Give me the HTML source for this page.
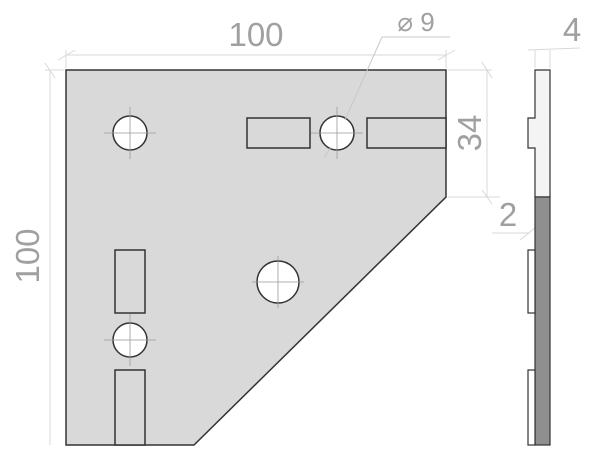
<!DOCTYPE html>
<html><head><style>html,body{margin:0;padding:0;background:#fff;}svg{display:block}</style></head>
<body>
<svg width="600" height="473" viewBox="0 0 600 473" xmlns="http://www.w3.org/2000/svg" font-family="Liberation Sans, sans-serif">
<g stroke="#d8d8d8" stroke-width="1" fill="none">
<line x1="66" y1="55" x2="446" y2="55"/>
<line x1="66" y1="68" x2="66" y2="50"/>
<line x1="446" y1="68" x2="446" y2="50"/>
<line x1="58" y1="60" x2="75" y2="50"/>
<line x1="438" y1="60" x2="455" y2="50"/>
<line x1="50" y1="70" x2="50" y2="445"/>
<line x1="45" y1="70" x2="64" y2="70"/>
<line x1="45" y1="63" x2="55" y2="78"/>
<line x1="448" y1="70" x2="492" y2="70"/>
<line x1="448" y1="197" x2="500" y2="197"/>
<line x1="487" y1="70" x2="487" y2="197"/>
<line x1="482" y1="62" x2="492" y2="78"/>
<line x1="482" y1="190" x2="492" y2="204"/>
<line x1="492" y1="233" x2="530" y2="233"/>
<line x1="520" y1="240" x2="535" y2="228"/>
<line x1="535" y1="68" x2="535" y2="50"/>
<line x1="550" y1="68" x2="550" y2="50"/>
<line x1="528" y1="50" x2="580" y2="48"/>
</g>
<polygon points="66,70 446,70 446,197 194,445 66,445" fill="#d9d9d9" stroke="#333" stroke-width="1.5"/>
<g fill="#fff" stroke="#333" stroke-width="1.5">
<rect x="247" y="118" width="63" height="30" fill="#d9d9d9"/>
<rect x="367" y="118" width="79" height="30" fill="#d9d9d9"/>
<rect x="115" y="250" width="30" height="63" fill="#d9d9d9"/>
<rect x="115" y="370" width="30" height="75" fill="#d9d9d9"/>
<circle cx="130" cy="133" r="17"/>
<circle cx="337" cy="133" r="17"/>
<circle cx="278" cy="282" r="21"/>
<circle cx="130" cy="340" r="17"/>
</g>
<g stroke="#999" stroke-width="0.8">
<path d="M104 133h52M130 107v52M311 133h52M337 107v52M252 282h52M278 256v52M104 340h52M130 314v52"/>
</g>
<g stroke="#c8c8c8" stroke-width="1" fill="none">
<line x1="345" y1="120" x2="382" y2="37"/>
<line x1="382" y1="37" x2="450" y2="37"/>
<line x1="331" y1="147" x2="324" y2="158"/>
</g>
<polygon points="535,70 550,70 550,197 535,197 535,148 528,148 528,118 535,118" fill="#f4f4f4" stroke="#333" stroke-width="1.2"/>
<rect x="535" y="197" width="15" height="248" fill="#8f8f8f" stroke="#333" stroke-width="1.2"/>
<rect x="528" y="250" width="7" height="63" fill="#fff" stroke="#333" stroke-width="1.2"/>
<rect x="528" y="370" width="7" height="75" fill="#fff" stroke="#333" stroke-width="1.2"/>
<g fill="#a0a0a0" font-size="33">
<text x="256" y="46" text-anchor="middle">100</text>
<text transform="translate(39,256) rotate(-90)" text-anchor="middle">100</text>
<text transform="translate(481,133) rotate(-90)" text-anchor="middle">34</text>
<text x="508" y="226" text-anchor="middle">2</text>
<text x="572" y="41" text-anchor="middle">4</text>
<text x="416" y="31" text-anchor="middle" font-size="26">⌀ 9</text>
</g>
</svg>
</body></html>
